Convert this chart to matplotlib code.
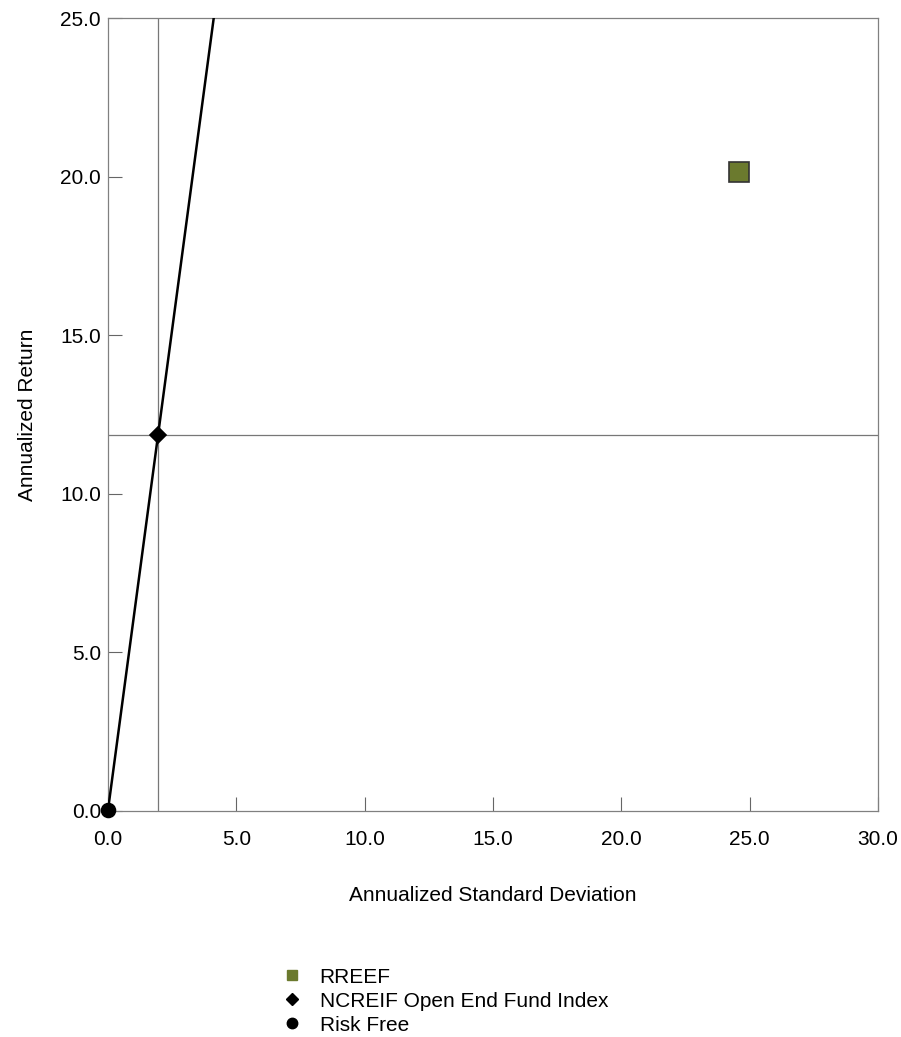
import matplotlib.pyplot as plt

# values (std dev, return)
names = ["RREEF", "NCREIF Open End Fund Index", "Risk Free"]
std_dev = [24.6, 1.95, 0.0]
returns = [20.15, 11.85, 0.03]
markers = ["s", "D", "o"]
colors = ["#6b7a2e", "black", "black"]
sizes = [15, 8, 10]

xticks = [0, 5, 10, 15, 20, 25, 30]
yticks = [0, 5, 10, 15, 20, 25]

font = ["Liberation Sans", "DejaVu Sans"]

fig = plt.figure(figsize=(9.01, 10.37), dpi=100)
ax = fig.add_axes([108 / 901, 1 - 811 / 1037, 770 / 901, 793 / 1037])

# capital market line from risk free through the index
rf_x, rf_y = std_dev[2], returns[2]
slope = (returns[1] - rf_y) / (std_dev[1] - rf_x)
x_top = rf_x + (25 - rf_y) / slope
ax.plot([rf_x, x_top], [rf_y, 25], color="black", lw=1.8, zorder=3)

# crosshair through the index
ax.axvline(std_dev[1], color="#777777", lw=0.9, zorder=1)
ax.axhline(returns[1], color="#777777", lw=0.9, zorder=1)

for i in range(3):
    ax.plot(std_dev[i], returns[i], marker=markers[i], ms=sizes[i],
            color=colors[i], mec="#333333" if i == 0 else "black",
            mew=1.2, ls="none", zorder=5, clip_on=False)

ax.set_xlim(0, 30)
ax.set_ylim(0, 25)
ax.set_xticks(xticks)
ax.set_yticks(yticks)
ax.set_xticklabels([f"{v:.1f}" for v in xticks], family=font, fontsize=15)
ax.set_yticklabels([f"{v:.1f}" for v in yticks], family=font, fontsize=15)
ax.tick_params(axis="x", direction="in", length=10, pad=14, color="#666666")
ax.tick_params(axis="y", direction="in", length=10, pad=5, color="#666666")
for s in ax.spines.values():
    s.set_color("#808080")
    s.set_linewidth(0.9)

ax.set_xlabel("Annualized Standard Deviation", family=font, fontsize=15, labelpad=26)
ax.set_ylabel("Annualized Return", family=font, fontsize=15, labelpad=17)

leg_handles = [plt.Line2D([], [], marker=m, color=c, ls="none", ms=s)
               for m, c, s in zip(markers, colors, [7, 6, 7.5])]
fig.legend(leg_handles, names, loc="upper left", bbox_to_anchor=(263 / 901, 1 - 949 / 1037),
           frameon=False, handlelength=1.0, handletextpad=0.82,
           labelspacing=0.24, prop={"family": font, "size": 15})

fig.savefig("out.png", dpi=100)
